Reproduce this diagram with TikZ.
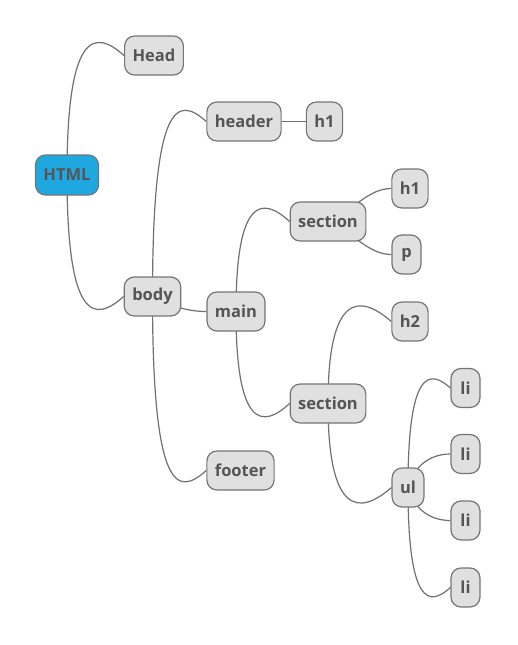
\documentclass[tikz,border=0pt]{standalone}
\usepackage{fontspec}
\setmainfont{Open Sans}
\usetikzlibrary{backgrounds}
\definecolor{topicfill}{RGB}{224,224,224}
\definecolor{topicline}{RGB}{117,117,117}
\definecolor{topictext}{RGB}{85,85,85}
\definecolor{rootfill}{RGB}{31,168,224}
\definecolor{branch}{RGB}{112,112,112}
\tikzset{
    topic/.style={draw=topicline, fill=topicfill, text=topictext, line width=1.2pt,
        rounded corners=10pt, minimum height=39pt, minimum width=29pt, inner xsep=8pt,
        font=\fontsize{16.5}{20}\selectfont\bfseries},
    root/.style={topic, fill=rootfill, minimum height=40pt},
    branch/.style={draw=branch, line width=1.2pt}
}
\begin{document}
\begin{tikzpicture}[x=1pt, y=-1pt]
            \useasboundingbox (0,0) rectangle (518,645);

            \node[root] (html) at (67,175) {HTML};
            \node[topic] (head) at (154,55.5) {Head};
            \node[topic] (body) at (152.5,296.5) {body};
            \node[topic] (header) at (244,121.5) {header};
            \node[topic] (hone) at (324.5,121.5) {h1};
            \node[topic] (main) at (236,311.5) {main};
            \node[topic] (footer) at (240.5,470.5) {footer};
            \node[topic] (secone) at (328,221.5) {section};
            \node[topic] (htwo) at (410,188.5) {h1};
            \node[topic] (para) at (406.5,254.5) {p};
            \node[topic] (sectwo) at (328,403.5) {section};
            \node[topic] (hthree) at (410,321.5) {h2};
            \node[topic] (list) at (408,487.5) {ul};
            \node[topic] (lione) at (465.5,388) {li};
            \node[topic] (litwo) at (465.5,454) {li};
            \node[topic] (lithree) at (465.5,520.5) {li};
            \node[topic] (lifour) at (465.5,587.5) {li};

            \begin{scope}[on background layer]
            \draw[branch] (html.center) .. controls +(0,-145) and +(-29,-26) .. (head.west);
            \draw[branch] (html.center) .. controls +(0,147) and +(-29,26) .. (body.west);
            \draw[branch] (body.center) .. controls +(0,-199) and +(-28,-25) .. (header.west);
            \draw[branch] (body.center) .. controls +(18,9) and +(-20,0) .. (main.west);
            \draw[branch] (body.center) .. controls +(0,199) and +(-28,25) .. (footer.west);
            \draw[branch] (header.east) -- (hone.west);
            \draw[branch] (main.center) .. controls +(0,-115) and +(-27,-25) .. (secone.west);
            \draw[branch] (main.center) .. controls +(0,117) and +(-27,25) .. (sectwo.west);
            \draw[branch] (secone.center) .. controls +(27,-13) and +(-22,0) .. (htwo.west);
            \draw[branch] (secone.center) .. controls +(27,13) and +(-22,0) .. (para.west);
            \draw[branch] (sectwo.center) .. controls +(0,-110) and +(-32,-28) .. (hthree.west);
            \draw[branch] (sectwo.center) .. controls +(0,112) and +(-32,28) .. (list.west);
            \draw[branch] (list.center) .. controls +(0,-118) and +(-21,-19) .. (lione.west);
            \draw[branch] (list.center) .. controls +(6,-21) and +(-21,0) .. (litwo.west);
            \draw[branch] (list.center) .. controls +(6,21) and +(-21,0) .. (lithree.west);
            \draw[branch] (list.center) .. controls +(0,119) and +(-21,19) .. (lifour.west);
            \end{scope}
        \end{tikzpicture}
\end{document}
